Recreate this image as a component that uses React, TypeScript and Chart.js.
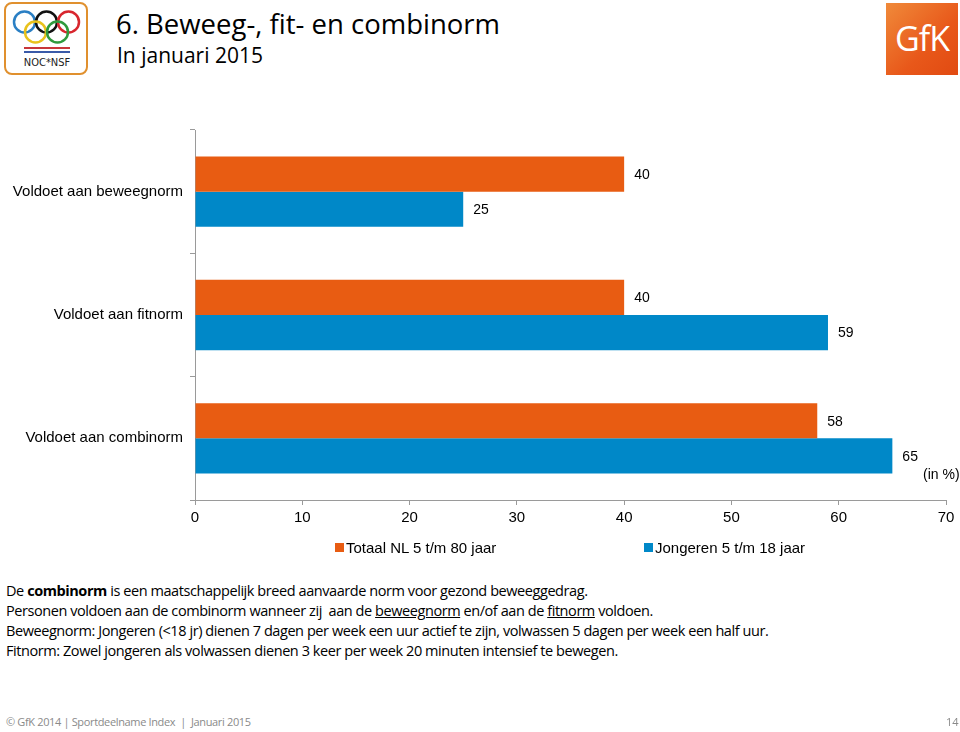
import React, { useEffect, useRef } from "react";
import { Chart, registerables } from "chart.js";

Chart.register(...registerables);

const categories = ["Voldoet aan beweegnorm", "Voldoet aan fitnorm", "Voldoet aan combinorm"];
const seriesNames = ["Totaal NL 5 t/m 80 jaar", "Jongeren 5 t/m 18 jaar"];
const totaalValues = [40, 40, 58];
const jongerenValues = [25, 59, 65];
const xTicks = [0, 10, 20, 30, 40, 50, 60, 70];
const colors = ["#E85C12", "#0088C8"];

const FONT = "'Liberation Sans', Arial, sans-serif";

const labelPlugin = {
  id: "barLabels",
  afterDatasetsDraw(chart: any) {
    const ctx = chart.ctx;
    ctx.save();
    ctx.font = `14px ${FONT}`;
    ctx.fillStyle = "#000";
    ctx.textAlign = "left";
    ctx.textBaseline = "middle";
    chart.data.datasets.forEach((ds: any, di: number) => {
      const meta = chart.getDatasetMeta(di);
      meta.data.forEach((bar: any, i: number) => {
        ctx.fillText(String(ds.data[i]), bar.x + 10, bar.y + 1);
      });
    });
    ctx.restore();
  },
};

function ChartView() {
  const ref = useRef<HTMLCanvasElement>(null);
  useEffect(() => {
    if (!ref.current) return;
    const chart = new Chart(ref.current, {
      type: "bar",
      data: {
        labels: categories,
        datasets: [
          { label: seriesNames[0], data: totaalValues, backgroundColor: colors[0], categoryPercentage: 0.57, barPercentage: 1 },
          { label: seriesNames[1], data: jongerenValues, backgroundColor: colors[1], categoryPercentage: 0.57, barPercentage: 1 },
        ],
      },
      options: {
        indexAxis: "y",
        animation: false,
        responsive: false,
        maintainAspectRatio: false,
        layout: { padding: { top: 20, right: 14, bottom: 30, left: 0 } },
        plugins: { legend: { display: false }, tooltip: { enabled: false } },
        scales: {
          x: {
            min: 0,
            max: 70,
            afterBuildTicks: (scale: any) => {
              scale.ticks = xTicks.map((v) => ({ value: v }));
            },
            afterFit: (scale: any) => {
              scale.height = 40;
            },
            grid: { drawOnChartArea: false, drawTicks: true, tickLength: 5, color: "#9a9a9a" },
            border: { color: "#9a9a9a" },
            ticks: { font: { family: FONT, size: 15 }, color: "#000", padding: 4, maxRotation: 0 },
          },
          y: {
            afterFit: (scale: any) => {
              scale.width = 195;
            },
            grid: { drawOnChartArea: false, drawTicks: true, tickLength: 5, color: "#9a9a9a", offset: true },
            border: { color: "#9a9a9a" },
            ticks: { font: { family: FONT, size: 15 }, color: "#000", padding: 7 },
          },
        },
      },
      plugins: [labelPlugin],
    } as any);
    return () => chart.destroy();
  }, []);
  return <canvas ref={ref} width={960} height={460} style={{ position: "absolute", left: 0, top: 110, width: 960, height: 460 }} />;
}

function OlympicLogo() {
  const rings = [
    { cx: 18.5, cy: 18, c: "#2a7fc4" },
    { cx: 40.5, cy: 18, c: "#111" },
    { cx: 62.5, cy: 18, c: "#d8262e" },
    { cx: 29.5, cy: 28, c: "#e9c21c" },
    { cx: 51.5, cy: 28, c: "#2f9a3d" },
  ];
  return (
    <div style={{ position: "absolute", left: 4, top: 2, width: 80, height: 69, border: "2.5px solid #e0902e", borderRadius: 8, background: "#fff" }}>
      <svg width={80} height={69} style={{ position: "absolute", left: 0, top: 0 }}>
        {rings.map((r, i) => (
          <circle key={i} cx={r.cx} cy={r.cy} r={10.5} fill="none" stroke={r.c} strokeWidth={2.5} />
        ))}
        <rect x={18} y={43} width={46} height={2} fill="#c8363a" />
        <rect x={18} y={47} width={46} height={2} fill="#3a5aa8" />
        <text x={41} y={62} textAnchor="middle" fontFamily="'DejaVu Sans Condensed', sans-serif" fontSize={11} fill="#222">NOC*NSF</text>
      </svg>
    </div>
  );
}

function GfkLogo() {
  return (
    <div style={{ position: "absolute", left: 886, top: 3, width: 72, height: 72, background: "linear-gradient(135deg, #f08a3a 0%, #e8581a 60%, #e14a12 100%)", display: "flex", alignItems: "center", justifyContent: "center" }}>
      <span style={{ color: "#fff", fontFamily: "'Open Sans', sans-serif", fontSize: 34, letterSpacing: -1, marginTop: -2 }}>GfK</span>
    </div>
  );
}

const textFont = "'Open Sans', 'Noto Sans', sans-serif";

export default function App() {
  return (
    <div style={{ position: "fixed", left: 0, top: 0, width: 960, height: 732, background: "#fff", overflow: "hidden" }}>
      <OlympicLogo />
      <GfkLogo />
      <div style={{ position: "absolute", left: 116, top: 5, fontFamily: textFont, fontSize: 27.5, color: "#000", whiteSpace: "nowrap", lineHeight: "38px" }}>
        6. Beweeg-, fit- en combinorm
      </div>
      <div style={{ position: "absolute", left: 117, top: 41, fontFamily: textFont, fontSize: 21, color: "#000", whiteSpace: "nowrap", lineHeight: "28px" }}>
        In januari 2015
      </div>
      <ChartView />
      <div style={{ position: "absolute", left: 923, top: 466, fontFamily: FONT, fontSize: 14, color: "#000", whiteSpace: "nowrap" }}>(in %)</div>
      <div style={{ position: "absolute", left: 335, top: 539, fontFamily: FONT, fontSize: 15, color: "#000", whiteSpace: "nowrap", display: "flex", alignItems: "center" }}>
        <span style={{ display: "inline-block", width: 9, height: 9, background: colors[0], marginRight: 2 }} />
        {seriesNames[0]}
      </div>
      <div style={{ position: "absolute", left: 644, top: 539, fontFamily: FONT, fontSize: 15, color: "#000", whiteSpace: "nowrap", display: "flex", alignItems: "center" }}>
        <span style={{ display: "inline-block", width: 9, height: 9, background: colors[1], marginRight: 2 }} />
        {seriesNames[1]}
      </div>
      <div style={{ position: "absolute", left: 6, top: 581, fontFamily: textFont, fontSize: 14.5, letterSpacing: -0.43, color: "#000", whiteSpace: "nowrap", lineHeight: "20px" }}>
        <div>De <b>combinorm</b> is een maatschappelijk breed aanvaarde norm voor gezond beweeggedrag.</div>
        <div>Personen voldoen aan de combinorm wanneer zij&nbsp; aan de <u>beweegnorm</u> en/of aan de <u>fitnorm</u> voldoen.</div>
        <div>Beweegnorm: Jongeren (&lt;18 jr) dienen 7 dagen per week een uur actief te zijn, volwassen 5 dagen per week een half uur.</div>
        <div>Fitnorm: Zowel jongeren als volwassen dienen 3 keer per week 20 minuten intensief te bewegen.</div>
      </div>
      <div style={{ position: "absolute", left: 6, top: 714, fontFamily: textFont, fontSize: 11, letterSpacing: -0.35, color: "#8a8a8a", whiteSpace: "nowrap" }}>
        © GfK 2014 | Sportdeelname Index&nbsp; | &nbsp;Januari 2015
      </div>
      <div style={{ position: "absolute", left: 946, top: 714, fontFamily: textFont, fontSize: 11, color: "#8a8a8a" }}>14</div>
    </div>
  );
}
